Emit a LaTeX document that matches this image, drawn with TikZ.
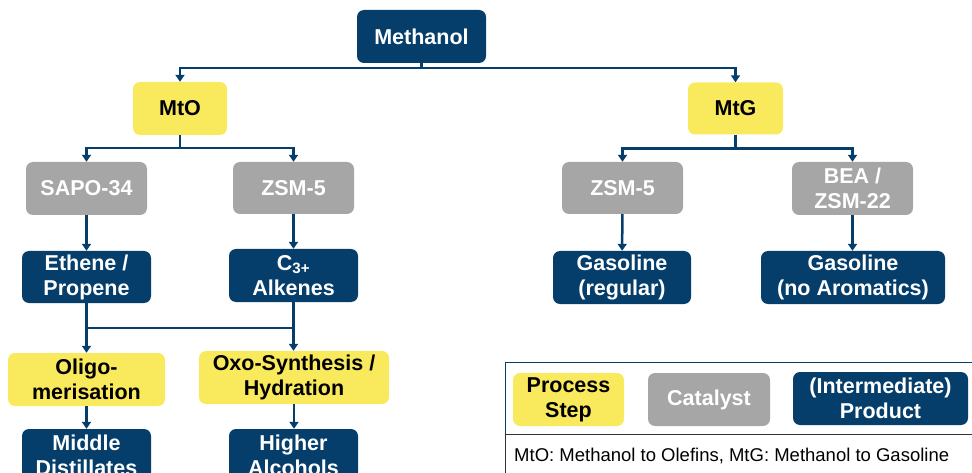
\documentclass[tikz,border=0pt]{standalone}
\usepackage{fontspec}
\setmainfont{Liberation Sans}
\usetikzlibrary{arrows.meta}
\definecolor{nblue}{HTML}{063E6B}
\definecolor{nyellow}{HTML}{F9E95C}
\definecolor{ngray}{HTML}{A6A6A6}
\begin{document}
\begin{tikzpicture}[x=1pt,y=-1pt,
  box/.style={rounded corners=7pt, align=center, inner sep=0pt,
    font=\fontsize{21.5}{25}\selectfont\bfseries},
  prod/.style={box, fill=nblue, text=white},
  proc/.style={box, fill=nyellow, text=black},
  cat/.style={box, fill=ngray, text=white},
  sz/.style 2 args={minimum width=#1pt, minimum height=#2pt},
  conn/.style={draw=nblue, line width=2.5pt},
  arr/.style={conn, -{Triangle[width=9pt,length=7pt]}},
]
\useasboundingbox (0,0) rectangle (972,473);
% nodes
\node[prod, sz={129}{53}] (meth) at (421.5,36.5) {Methanol};
\node[proc, sz={94}{53}] (mto) at (180,108.5) {MtO};
\node[proc, sz={95}{52}] (mtg) at (735.5,108.5) {MtG};
\node[cat, sz={121}{53}] (sapo) at (86.5,188.5) {SAPO-34};
\node[cat, sz={121}{52}] (zsml) at (293.5,188) {ZSM-5};
\node[prod, sz={129}{52}] (eth) at (86.5,277) {Ethene /\\Propene};
\node[prod, sz={129}{53}] (c3) at (293.5,275.5) {C\textsubscript{3+}\\Alkenes};
\node[proc, sz={157}{53}] (olig) at (86.5,379.5) {Oligo-\\merisation};
\node[proc, sz={190}{53}] (oxo) at (294,377.5) {Oxo-Synthesis /\\Hydration};
\node[prod, sz={129}{53}] (mid) at (86.5,455.5) {Middle\\Distillates};
\node[prod, sz={129}{53}] (high) at (293.5,455.5) {Higher\\Alcohols};
\node[cat, sz={121}{52}] (zsmr) at (622.5,188) {ZSM-5};
\node[cat, sz={121}{53}] (bea) at (852.5,188.5) {BEA /\\ZSM-22};
\node[prod, sz={138}{53}] (gasr) at (622,277.5) {Gasoline\\(regular)};
\node[prod, sz={184}{53}] (gasn) at (853,277.5) {Gasoline\\(no Aromatics)};
% connectors
\draw[conn] (meth.south) -- ++(0,5) coordinate (mj);
\draw[arr] (mj) -| (mto.north);
\draw[arr] (mj) -| (mtg.north);
\draw[conn] (mto.south) -- ++(0,13) coordinate (oj);
\draw[arr] (oj) -| (sapo.north);
\draw[arr] (oj) -| (zsml.north);
\draw[conn] (mtg.south) -- ++(0,14) coordinate (gj);
\draw[arr] (gj) -| (zsmr.north);
\draw[arr] (gj) -| (bea.north);
\draw[arr] (sapo) -- (eth);
\draw[arr] (zsml) -- (c3);
\draw[arr] (zsmr) -- (gasr);
\draw[arr] (bea.south) -- (bea.south |- gasn.north);
\draw[arr] (eth) -- (olig);
\draw[arr] (c3.south) -- (c3.south |- oxo.north);
\coordinate (hy) at (0,328);
\draw[conn] (eth.south |- hy) -- (c3.south |- hy);
\draw[arr] (olig) -- (mid);
\draw[arr] (oxo.south) -- (oxo.south |- high.north);
% legend
\draw[nblue, line width=1pt] (505,362) rectangle (985,434);
\draw[black!80, line width=1pt] (505,480) -- (505,434) -- (985,434);
\node[proc, sz={111}{53}] (lproc) at (568.5,399.5) {Process\\Step};
\node[cat, sz={122}{53}] (lcat) at (709,399.5) {Catalyst};
\node[prod, sz={175}{53}] (lprod) at (880.5,398.5) {(Intermediate)\\Product};
\node[anchor=west, inner sep=0pt, font=\fontsize{18.5}{22}\selectfont] (note) at (514,456)
  {MtO: Methanol to Olefins, MtG: Methanol to Gasoline};
\end{tikzpicture}
\end{document}
